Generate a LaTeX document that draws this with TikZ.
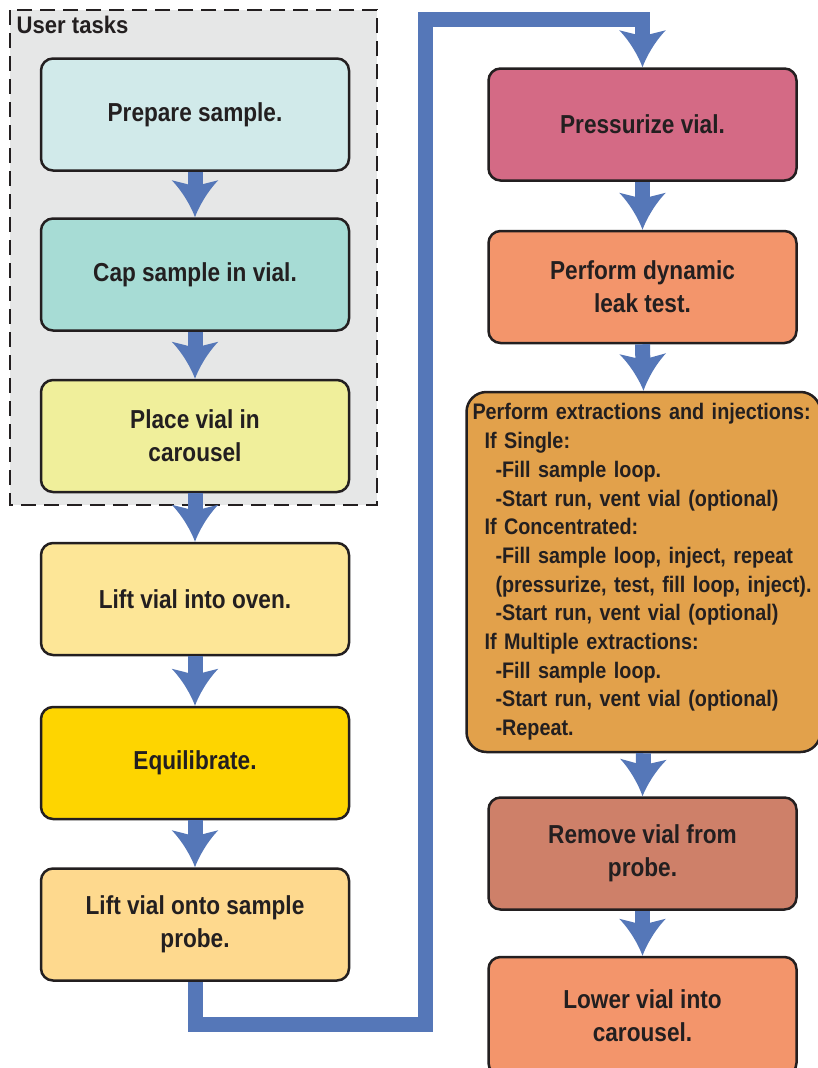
\documentclass[tikz,border=0pt]{standalone}
\usepackage{fontspec}
\setmainfont{Liberation Sans}
\newfontfamily\condfont[FakeStretch=0.87]{Liberation Sans}
\newfontfamily\listfont[FakeStretch=0.88]{Liberation Sans}
\newfontfamily\labelfont[FakeStretch=0.92]{Liberation Sans}
\usetikzlibrary{arrows.meta}
\definecolor{txt}{HTML}{231F20}
\definecolor{flowblue}{HTML}{5577B8}
\definecolor{grp}{HTML}{E6E7E7}
\definecolor{cA}{HTML}{D1EAEA}
\definecolor{cB}{HTML}{A7DCD5}
\definecolor{cC}{HTML}{F0EF9B}
\definecolor{cD}{HTML}{FDE697}
\definecolor{cE}{HTML}{FED500}
\definecolor{cF}{HTML}{FED98E}
\definecolor{cG}{HTML}{D46A85}
\definecolor{cH}{HTML}{F3956B}
\definecolor{cI}{HTML}{E2A14B}
\definecolor{cJ}{HTML}{CE8069}
\pgfdeclarearrow{
  name = FlowHead,
  setup code = {
    \pgfarrowssettipend{0pt}
    \pgfarrowssetbackend{-37pt}
    \pgfarrowssetlineend{-30pt}
    \pgfarrowshullpoint{0pt}{0pt}
    \pgfarrowshullpoint{-37pt}{23.3pt}
    \pgfarrowshullpoint{-37pt}{-23.3pt}
  },
  drawing code = {
    \pgfpathmoveto{\pgfpoint{0pt}{0pt}}
    \pgfpathcurveto{\pgfpoint{-10pt}{3.5pt}}{\pgfpoint{-26pt}{12.5pt}}{\pgfpoint{-37pt}{23.3pt}}
    \pgfpathlineto{\pgfpoint{-33pt}{7.5pt}}
    \pgfpathlineto{\pgfpoint{-33pt}{-7.5pt}}
    \pgfpathlineto{\pgfpoint{-37pt}{-23.3pt}}
    \pgfpathcurveto{\pgfpoint{-26pt}{-12.5pt}}{\pgfpoint{-10pt}{-3.5pt}}{\pgfpoint{0pt}{0pt}}
    \pgfpathclose
    \pgfsetfillcolor{flowblue}
    \pgfusepathqfill
  }
}
\tikzset{
  stepbox/.style={draw=txt, line width=2.5pt, rounded corners=12pt,
    minimum width=308pt, minimum height=112pt, align=center, text=txt,
    font=\condfont\bfseries\fontsize{26}{33}\selectfont, inner sep=0pt},
  flow/.style={draw=flowblue, line width=15pt, line join=miter, -{FlowHead}},
}
\begin{document}
\begin{tikzpicture}[x=1pt, y=-1pt]
\useasboundingbox (0,0) rectangle (818,1068);
% user task group
\draw[fill=grp, draw=txt, line width=2.6pt, dash pattern=on 15pt off 8pt] (10,10) rectangle (377,505);
\node[anchor=north west, inner sep=0pt, text=txt, font=\labelfont\bfseries\fontsize{24}{26}\selectfont] (ut) at (16.5,16) {User tasks};
% left column
\node[stepbox, fill=cA] (b1) at (195,114.5) {Prepare sample.};
\node[stepbox, fill=cB] (b2) at (195,274.5) {Cap sample in vial.};
\node[stepbox, fill=cC] (b3) at (195,436) {Place vial in\\carousel};
\node[stepbox, fill=cD] (b4) at (195,599) {Lift vial into oven.};
\node[stepbox, fill=cE] (b5) at (195,763) {Equilibrate.};
\node[stepbox, fill=cF] (b6) at (195,924.5) {Lift vial onto sample\\probe.};
% right column
\node[stepbox, fill=cG] (b7) at (642.5,124.5) {Pressurize vial.};
\node[stepbox, fill=cH] (b8) at (642.5,287) {Perform dynamic\\leak test.};
\node[stepbox, fill=cI, minimum width=354pt, minimum height=360pt, rounded corners=20pt,
  align=left, text width=342pt, font=\listfont\bfseries\fontsize{22.5}{28.7}\selectfont] (b9) at (643.5,572)
{Perform extractions and injections:\\
\hspace*{12pt}If Single:\\
\hspace*{23pt}-Fill sample loop.\\
\hspace*{23pt}-Start run, vent vial (optional)\\
\hspace*{12pt}If Concentrated:\\
\hspace*{23pt}-Fill sample loop, inject, repeat\\
\hspace*{23pt}(pressurize, test, fill loop, inject).\\
\hspace*{23pt}-Start run, vent vial (optional)\\
\hspace*{12pt}If Multiple extractions:\\
\hspace*{23pt}-Fill sample loop.\\
\hspace*{23pt}-Start run, vent vial (optional)\\
\hspace*{23pt}-Repeat.};
\node[stepbox, fill=cJ] (b10) at (642.5,853.5) {Remove vial from\\probe.};
\node[stepbox, fill=cH, minimum height=118pt] (b11) at (642.5,1016) {Lower vial into\\carousel.};
% connectors
\coordinate (p1) at (425,1024);
\coordinate (p2) at (425,19);
\draw[flow] (b1.south) -- (b2.north);
\draw[flow] (b2.south) -- (b3.north);
\draw[flow] (b3.south) -- (b4.north);
\draw[flow] (b4.south) -- (b5.north);
\draw[flow] (b5.south) -- (b6.north);
\draw[flow] (b6.south) |- (p1) -- (p2) -| (b7.north);
\draw[flow] (b7.south) -- (b8.north);
\draw[flow] (b8.south) -- (b9.north);
\draw[flow] (b9.south) -- (b10.north);
\draw[flow] (b10.south) -- (b11.north);
\end{tikzpicture}
\end{document}
